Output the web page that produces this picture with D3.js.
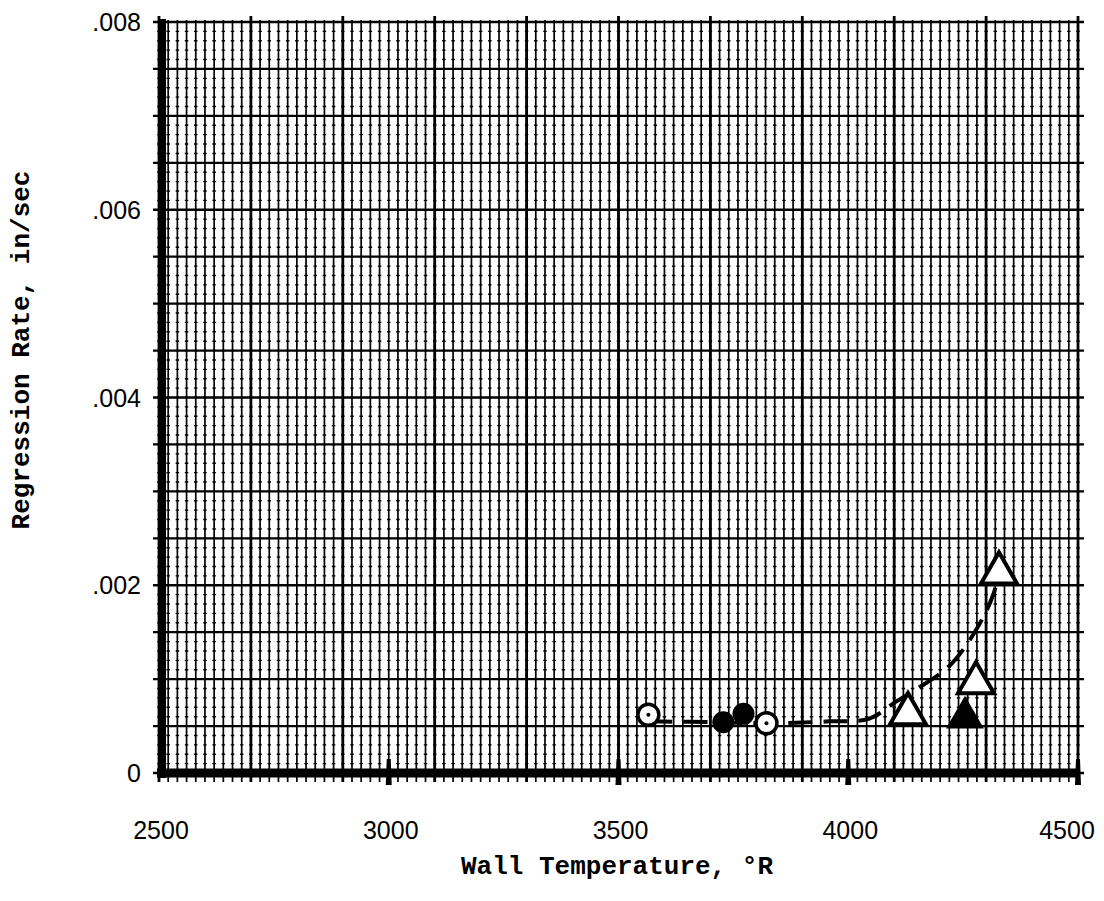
<!DOCTYPE html>
<html>
<head>
<meta charset="utf-8">
<script src="https://cdn.jsdelivr.net/npm/d3@7"></script>
<style>
  html, body { margin: 0; padding: 0; background: #fff; }
  svg { display: block; }
</style>
</head>
<body>
<svg id="chart" width="1104" height="901"></svg>
<script>
// Regression rate vs. wall temperature
const xTickValues = [2500, 3000, 3500, 4000, 4500];
const xTickLabels = ["2500", "3000", "3500", "4000", "4500"];
const yTickValues = [0, 0.002, 0.004, 0.006, 0.008];
const yTickLabels = ["0", ".002", ".004", ".006", ".008"];

// measured points: [wall temperature °R, regression rate in/sec]
const openCircles = [[3565, 0.00062], [3822, 0.00053]];
const filledCircles = [[3728, 0.00054], [3772, 0.00063]];
const openTriangles = [[4130, 0.00063], [4278, 0.00096], [4328, 0.00213]];
const filledTriangles = [[4254, 0.00059]];

// faired dashed trend curve
const trendTemp = [3565, 3720, 3822, 3959, 4046, 4104, 4154, 4220, 4280, 4317, 4330];
const trendRate = [0.00055, 0.00054, 0.00053, 0.00055, 0.00058, 0.00076, 0.00091, 0.00114, 0.00154, 0.00192, 0.00222];

const svg = d3.select("#chart");
const W = +svg.attr("width");
const x = d3.scaleLinear().domain([2500, 4500]).range([159, 1078]);
const y = d3.scaleLinear().domain([0, 0.008]).range([773, 22]);

const [x0, x1] = x.range();
const [y0, y1] = y.range();

// ---- graph paper ----
const grid = svg.append("g");

// fine horizontal rulings: only the crossings survive, drawn as short dashes
const fineCols = d3.range(2500, 4500.1, 20);
const colStep = x(2520) - x(2500);
const lead = 6, dashLen = 3.5;
grid.selectAll("line.hfine")
  .data(d3.range(0, 0.00801, 0.0001))
  .join("line")
  .attr("x1", x0 - lead).attr("x2", x1 + 4)
  .attr("y1", d => y(d)).attr("y2", d => y(d))
  .attr("stroke", "#000").attr("stroke-width", 1.4)
  .attr("stroke-dasharray", `${dashLen},${colStep - dashLen}`)
  .attr("stroke-dashoffset", dashLen / 2 - lead);

// fine vertical rulings every 20 °R
grid.selectAll("line.vfine")
  .data(fineCols)
  .join("line")
  .attr("x1", d => x(d)).attr("x2", d => x(d))
  .attr("y1", y1 - 2).attr("y2", y0 + 9)
  .attr("stroke", "#000").attr("stroke-width", 1.7);

// heavier vertical rulings every 200 °R
grid.selectAll("line.vmaj")
  .data(d3.range(2500, 4500.1, 200))
  .join("line")
  .attr("x1", d => x(d)).attr("x2", d => x(d))
  .attr("y1", y1 - 6).attr("y2", y0 + 9)
  .attr("stroke", "#000").attr("stroke-width", 2.8);

// horizontal rulings every .0005
grid.selectAll("line.hmaj")
  .data(d3.range(0, 0.00801, 0.0005))
  .join("line")
  .attr("x1", x0 - 6).attr("x2", x1 + 6)
  .attr("y1", d => y(d)).attr("y2", d => y(d))
  .attr("stroke", "#000").attr("stroke-width", 2.3);

// ---- axes ----
svg.append("line")
  .attr("x1", x(2500) + 3).attr("x2", x(2500) + 3)
  .attr("y1", y1 - 3).attr("y2", y0 + 5)
  .attr("stroke", "#000").attr("stroke-width", 8);
svg.append("line")
  .attr("x1", x0 - 2).attr("x2", x1 + 2)
  .attr("y1", y0).attr("y2", y0)
  .attr("stroke", "#000").attr("stroke-width", 9);

// labelled tick marks on the temperature axis
svg.selectAll("path.xmark")
  .data(xTickValues.slice(1))
  .join("path")
  .attr("d", d => `M${x(d) - 2},${y0 - 14} L${x(d) + 2},${y0 - 14} L${x(d) + 3},${y0 + 12} L${x(d) - 3},${y0 + 12} Z`)
  .attr("fill", "#000");

// tick labels
const tickFont = "'Liberation Sans', Arial, sans-serif";
svg.selectAll("text.xlab")
  .data(xTickValues)
  .join("text")
  .attr("x", d => Math.min(x(d) + 2, W - 37))
  .attr("y", 839)
  .attr("text-anchor", "middle")
  .attr("font-family", tickFont)
  .attr("font-size", 25)
  .attr("fill", "#000")
  .text((d, i) => xTickLabels[i]);

svg.selectAll("text.ylab")
  .data(yTickValues)
  .join("text")
  .attr("x", 141)
  .attr("y", d => y(d) + 9)
  .attr("text-anchor", "end")
  .attr("font-family", tickFont)
  .attr("font-size", 25)
  .attr("fill", "#000")
  .text((d, i) => yTickLabels[i]);

// axis titles
const titleFont = "'Liberation Mono', 'DejaVu Sans Mono', monospace";
svg.append("text")
  .attr("x", 617).attr("y", 874)
  .attr("text-anchor", "middle")
  .attr("font-family", titleFont)
  .attr("font-weight", "bold")
  .attr("font-size", 26)
  .attr("fill", "#000")
  .text("Wall Temperature, °R");

svg.append("text")
  .attr("transform", "translate(29,350) rotate(-90)")
  .attr("text-anchor", "middle")
  .attr("font-family", titleFont)
  .attr("font-weight", "bold")
  .attr("font-size", 26)
  .attr("fill", "#000")
  .text("Regression Rate, in/sec");

// ---- trend curve ----
const trend = trendTemp.map((t, i) => [t, trendRate[i]]);
svg.append("path")
  .datum(trend)
  .attr("d", d3.line().x(d => x(d[0])).y(d => y(d[1])).curve(d3.curveCatmullRom.alpha(0.5)))
  .attr("fill", "none")
  .attr("stroke", "#000")
  .attr("stroke-width", 4)
  .attr("stroke-dasharray", "24,11");

// ---- data symbols ----
const tri = d3.symbol().type(d3.symbolTriangle).size(560);

svg.selectAll("circle.open")
  .data(openCircles)
  .join("circle")
  .attr("cx", d => x(d[0])).attr("cy", d => y(d[1]))
  .attr("r", 10.5)
  .attr("fill", "#fff")
  .attr("stroke", "#000").attr("stroke-width", 3.5);
svg.selectAll("circle.opendot")
  .data(openCircles)
  .join("circle")
  .attr("cx", d => x(d[0])).attr("cy", d => y(d[1]))
  .attr("r", 2)
  .attr("fill", "#000");

svg.selectAll("circle.filled")
  .data(filledCircles)
  .join("circle")
  .attr("cx", d => x(d[0])).attr("cy", d => y(d[1]))
  .attr("r", 11)
  .attr("fill", "#000");

svg.selectAll("path.otri")
  .data(openTriangles)
  .join("path")
  .attr("transform", d => `translate(${x(d[0])},${y(d[1])})`)
  .attr("d", tri)
  .attr("fill", "#fff")
  .attr("stroke", "#000").attr("stroke-width", 4)
  .attr("stroke-linejoin", "miter");

svg.selectAll("path.ftri")
  .data(filledTriangles)
  .join("path")
  .attr("transform", d => `translate(${x(d[0])},${y(d[1])})`)
  .attr("d", d3.symbol().type(d3.symbolTriangle).size(620))
  .attr("fill", "#000");
</script>
</body>
</html>
